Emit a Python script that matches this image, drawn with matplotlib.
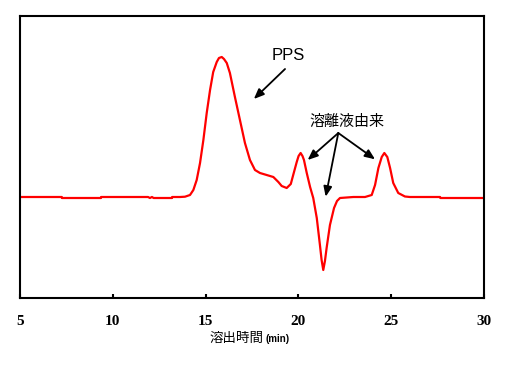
import matplotlib
matplotlib.use("Agg")
import matplotlib.pyplot as plt

# Elution time (min) and detector signal (arbitrary units)
time_min = [5.0, 7.25, 7.26, 9.36, 9.37, 11.90, 12.0, 12.11, 12.2, 12.54, 13.19, 13.2,
            13.62, 13.89, 14.16, 14.34, 14.52, 14.70, 14.88, 15.06, 15.24, 15.41,
            15.60, 15.72, 15.87, 15.99, 16.14, 16.31, 16.58, 16.85, 17.12, 17.39,
            17.66, 17.93, 18.29, 18.65, 18.92, 19.10, 19.37, 19.59, 19.72, 19.91,
            20.01, 20.12, 20.22, 20.30, 20.45, 20.63, 20.80, 20.99, 21.16, 21.25,
            21.34, 21.43, 21.52, 21.70, 21.92, 22.08, 22.24, 22.96, 23.59, 23.95,
            24.13, 24.31, 24.49, 24.63, 24.79, 24.94, 25.11, 25.38, 25.74, 26.01,
            27.63, 27.65, 30.0]
signal = [0, 0, -1, -1, 0, 0, -1, 0, -1, -1, -1, 0,
          0, 0.3, 2, 7, 17, 34, 57, 84, 107, 125,
          135, 139, 140, 138, 134, 124, 100, 77, 54, 37,
          27, 24, 22, 20, 15, 11, 9, 13, 22, 35,
          41, 44, 41, 37, 24, 10, -1, -21, -48, -63,
          -73, -64, -51, -28, -11, -4, -1, 0, 0, 2,
          12, 29, 40, 44, 40, 29, 14, 4, 0.5, 0,
          0, -1, -1]

xticks = [5, 10, 15, 20, 25, 30]

fig = plt.figure(figsize=(5.08, 3.66), dpi=100)
ax = fig.add_axes([20/508, 1-298/366, 464/508, 282/366])
ax.plot(time_min, signal, color="#ff0000", lw=1.6, solid_joinstyle="round")
ax.set_xlim(5, 30)
ax.set_ylim(-101, 181)
ax.set_yticks([])
ax.set_xticks(xticks)
ax.set_xticklabels([str(t) for t in xticks], fontfamily="Liberation Serif",
                   fontweight="bold", fontsize=11)
ax.tick_params(axis="x", direction="in", length=3, width=1.5, pad=12)
for s in ax.spines.values():
    s.set_linewidth(1.5)

cjk = ["Noto Sans CJK JP", "DejaVu Sans"]

# PPS annotation
ax.annotate("", xy=(17.6, 98), xytext=(19.28, 128),
            arrowprops=dict(arrowstyle="-|>,head_length=0.6,head_width=0.25",
                            color="black", lw=1.3, shrinkA=0, shrinkB=0))
ax.text(19.45, 141, "PPS", ha="center", va="center", fontsize=12,
        fontfamily="Liberation Sans")

# Eluent-derived annotation
ax.text(22.6, 75, "溶離液由来", ha="center", va="center", fontsize=10.8,
        fontfamily=cjk)
src = (22.15, 64)
for tgt in [(20.5, 37), (21.47, 0.3), (24.13, 37.7)]:
    ax.annotate("", xy=tgt, xytext=src,
                arrowprops=dict(arrowstyle="-|>,head_length=0.6,head_width=0.25",
                                color="black", lw=1.3, shrinkA=0, shrinkB=0))

# x-axis label
fig.text(263/508, 1-338/366, "溶出時間", ha="right", va="center", fontsize=9.7,
         fontfamily=cjk)
fig.text(265/508, 1-339/366, "(min)", ha="left", va="center", fontsize=7,
         fontweight="bold", fontfamily="Liberation Sans")

fig.savefig("out.png", dpi=100)
